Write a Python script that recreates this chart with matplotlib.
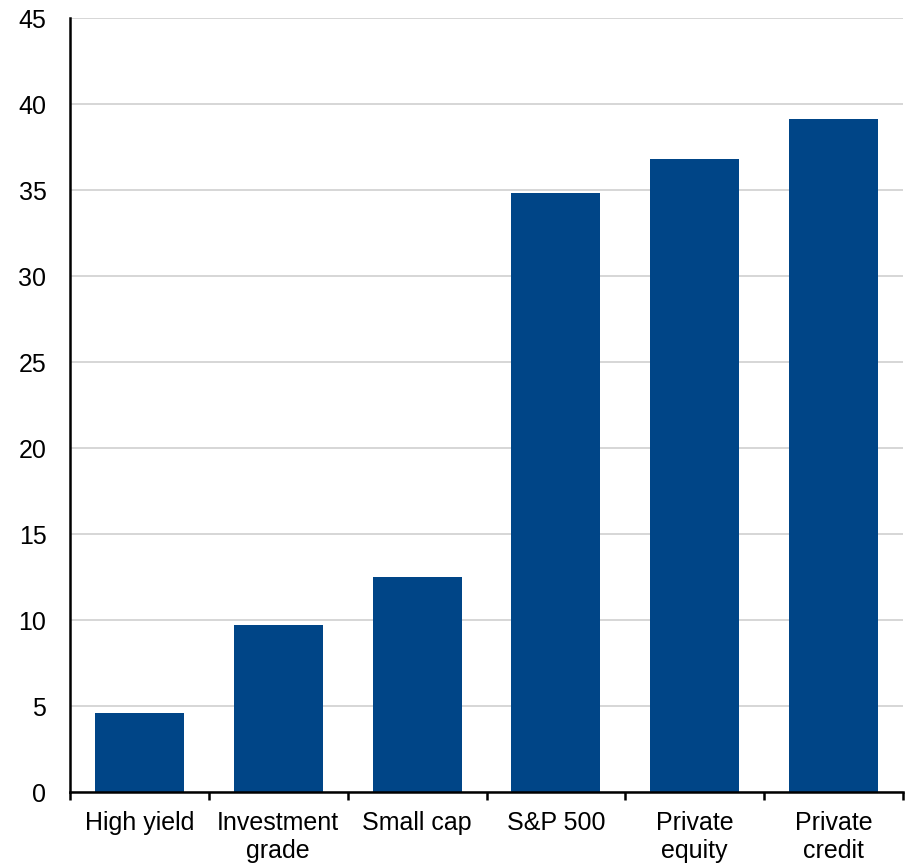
import matplotlib
matplotlib.use("Agg")
import matplotlib.pyplot as plt
import numpy as np

categories = ["High yield", "Investment\ngrade", "Small cap", "S&P 500", "Private\nequity", "Private\ncredit"]
values = [4.6, 9.7, 12.5, 34.8, 36.8, 39.1]
yticks = [0, 5, 10, 15, 20, 25, 30, 35, 40, 45]

plt.rcParams['font.family'] = ['Liberation Sans', 'DejaVu Sans']

fig = plt.figure(figsize=(9.22, 8.65), dpi=100)
ax = fig.add_axes([70/922, 1-792/865, (903-70)/922, (792-18)/865])

x = np.arange(len(categories))
ax.bar(x, values, width=0.64, color="#004587", zorder=3)

ax.set_xlim(-0.5, len(categories) - 0.5)
ax.set_ylim(0, 45)
ax.set_yticks(yticks)
ax.set_yticklabels([str(t) for t in yticks], fontsize=18)
ax.grid(axis='y', color="#D0D0D0", linewidth=1.2, zorder=0)

ax.set_xticks(x)
ax.set_xticklabels(categories, fontsize=18, linespacing=1.2)
ax.set_xticks(np.arange(-0.5, len(categories)), minor=True)
ax.tick_params(axis='x', which='major', length=0, pad=14)
ax.tick_params(axis='x', which='minor', length=6, width=1.8, direction='out', color='black')
ax.tick_params(axis='y', length=0, pad=17)

for s in ['top', 'right']:
    ax.spines[s].set_visible(False)
ax.spines['left'].set_linewidth(1.8)
ax.spines['bottom'].set_linewidth(1.8)
ax.spines['left'].set_zorder(4)
ax.spines['bottom'].set_zorder(4)

fig.savefig("out.png", dpi=100)
